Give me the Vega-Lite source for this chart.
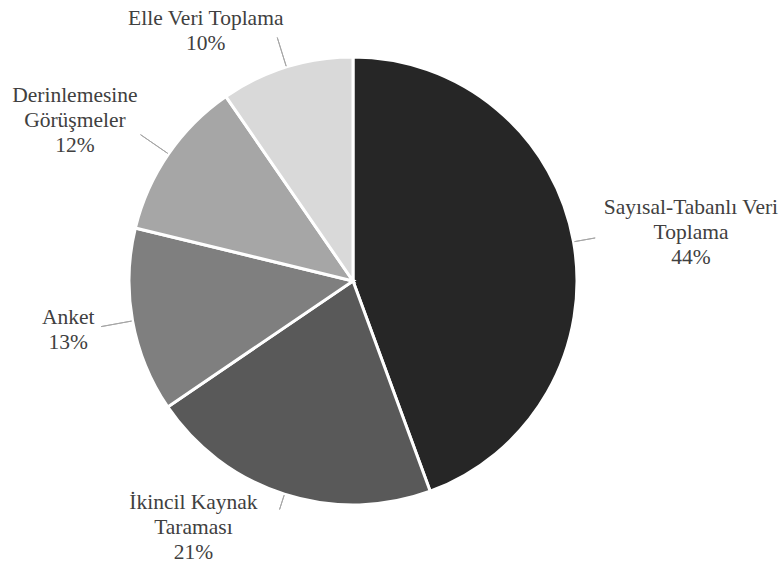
{
  "$schema": "https://vega.github.io/schema/vega-lite/v6.json",
  "autosize": {"type": "none"},
  "padding": {"left": 0, "top": 0, "right": 74, "bottom": 2},
  "width": 706,
  "height": 562,
  "background": "white",
  "config": {"view": {"stroke": null}, "text": {"font": "Liberation Serif", "fontSize": 21.5, "color": "#404040", "lineHeight": 25, "lineBreak": "\n", "align": "center", "baseline": "middle"}},
  "data": {
    "values": [
      {"name": "Sayısal-Tabanlı Veri\nToplama", "value": 44.4},
      {"name": "İkincil Kaynak\nTaraması", "value": 21.1},
      {"name": "Anket", "value": 13.3},
      {"name": "Derinlemesine\nGörüşmeler", "value": 11.6},
      {"name": "Elle Veri Toplama", "value": 9.6}
    ]
  },
  "transform": [
    {"stack": "value", "groupby": [], "sort": [{"field": "value", "order": "descending"}], "as": ["v0", "v1"]},
    {"calculate": "(datum.v0 + datum.v1) / 2", "as": "mid"},
    {"calculate": "datum.name + '\\n' + format(datum.value / 100, '.0%')", "as": "label"}
  ],
  "layer": [
    {
      "mark": {"type": "arc", "radius": 224, "stroke": "white", "strokeWidth": 3},
      "encoding": {
        "theta": {"field": "v0", "type": "quantitative", "scale": {"domain": [0, 100]}},
        "theta2": {"field": "v1"},
        "color": {
          "field": "name", "type": "nominal", "legend": null,
          "scale": {
            "domain": ["Sayısal-Tabanlı Veri\nToplama", "İkincil Kaynak\nTaraması", "Anket", "Derinlemesine\nGörüşmeler", "Elle Veri Toplama"],
            "range": ["#262626", "#595959", "#7f7f7f", "#a6a6a6", "#d9d9d9"]
          }
        }
      }
    },
    {
      "transform": [{"filter": "datum.name == 'Sayısal-Tabanlı Veri\\nToplama'"}],
      "layer": [
        {"mark": {"type": "arc", "radius": 225, "radius2": 246, "stroke": "#a6a6a6", "strokeWidth": 1, "fill": null},
         "encoding": {"theta": {"field": "mid", "type": "quantitative"}, "theta2": {"field": "mid"}}},
        {"mark": {"type": "text", "radius": 260, "dx": 82, "dy": -27, "font": "Liberation Serif"},
         "encoding": {"theta": {"field": "mid", "type": "quantitative"}, "text": {"field": "label"}}}
      ]
    },
    {
      "transform": [{"filter": "datum.name == 'İkincil Kaynak\\nTaraması'"}],
      "layer": [
        {"mark": {"type": "arc", "radius": 225, "radius2": 240, "stroke": "#a6a6a6", "strokeWidth": 1, "fill": null},
         "encoding": {"theta": {"field": "mid", "type": "quantitative"}, "theta2": {"field": "mid"}}},
        {"mark": {"type": "text", "radius": 260, "dx": -80, "dy": -26, "font": "Liberation Serif"},
         "encoding": {"theta": {"field": "mid", "type": "quantitative"}, "text": {"field": "label"}}}
      ]
    },
    {
      "transform": [{"filter": "datum.name == 'Anket'"}],
      "layer": [
        {"mark": {"type": "arc", "radius": 225, "radius2": 256, "stroke": "#a6a6a6", "strokeWidth": 1, "fill": null},
         "encoding": {"theta": {"field": "mid", "type": "quantitative"}, "theta2": {"field": "mid"}}},
        {"mark": {"type": "text", "radius": 260, "dx": -29, "dy": -9, "font": "Liberation Serif"},
         "encoding": {"theta": {"field": "mid", "type": "quantitative"}, "text": {"field": "label"}}}
      ]
    },
    {
      "transform": [{"filter": "datum.name == 'Derinlemesine\\nGörüşmeler'"}],
      "layer": [
        {"mark": {"type": "arc", "radius": 225, "radius2": 258, "stroke": "#a6a6a6", "strokeWidth": 1, "fill": null},
         "encoding": {"theta": {"field": "mid", "type": "quantitative"}, "theta2": {"field": "mid"}}},
        {"mark": {"type": "text", "radius": 260, "dx": -64, "dy": -38, "font": "Liberation Serif"},
         "encoding": {"theta": {"field": "mid", "type": "quantitative"}, "text": {"field": "label"}}}
      ]
    },
    {
      "transform": [{"filter": "datum.name == 'Elle Veri Toplama'"}],
      "layer": [
        {"mark": {"type": "arc", "radius": 225, "radius2": 255, "stroke": "#a6a6a6", "strokeWidth": 1, "fill": null},
         "encoding": {"theta": {"field": "mid", "type": "quantitative"}, "theta2": {"field": "mid"}}},
        {"mark": {"type": "text", "radius": 260, "dx": -70, "dy": -14, "font": "Liberation Serif"},
         "encoding": {"theta": {"field": "mid", "type": "quantitative"}, "text": {"field": "label"}}}
      ]
    }
  ]
}
